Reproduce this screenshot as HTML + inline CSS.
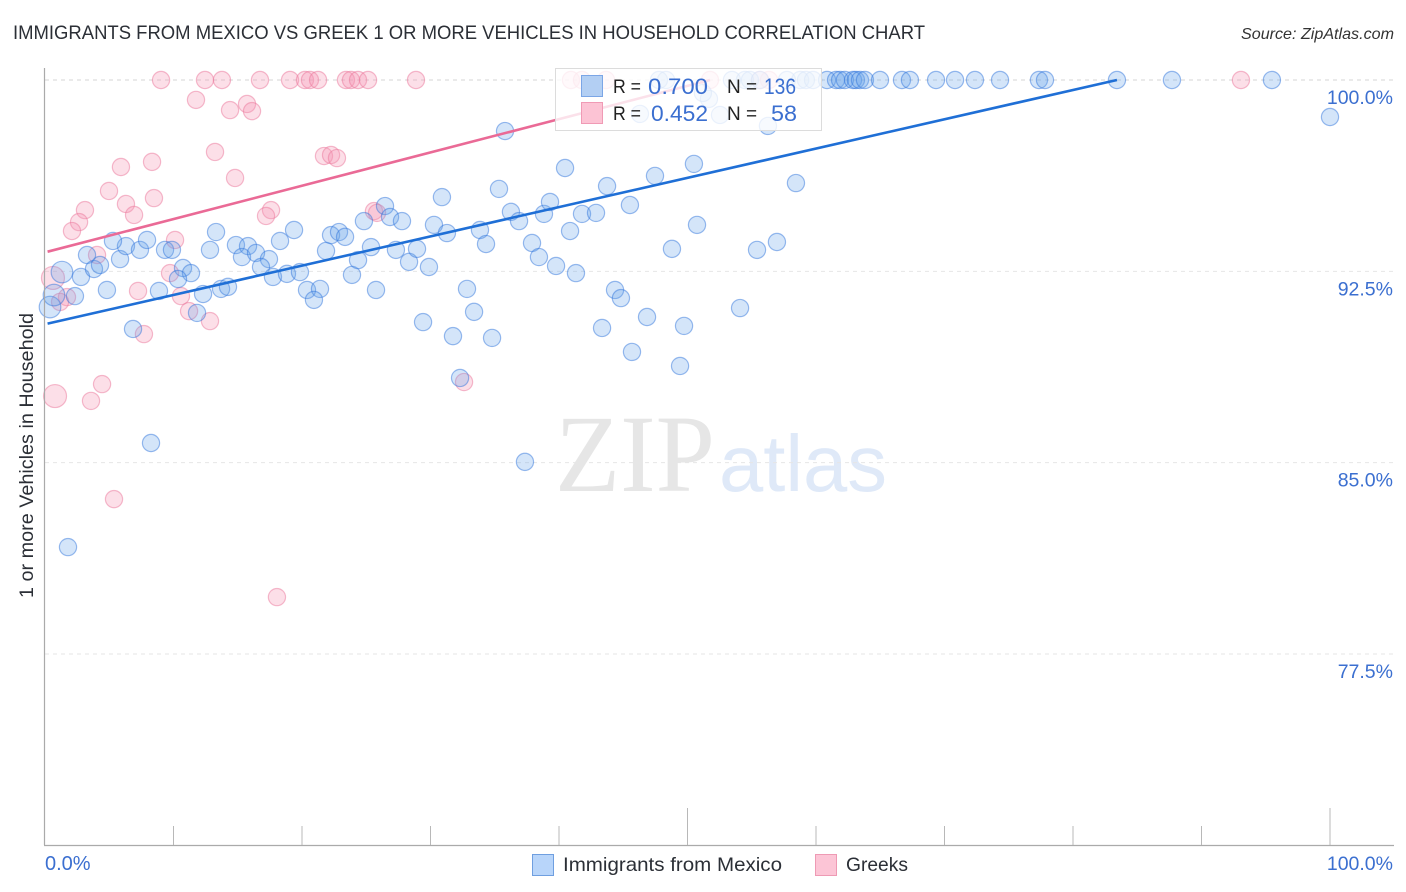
<!DOCTYPE html>
<html lang="en">
<head>
<meta charset="utf-8">
<title>Immigrants from Mexico vs Greek 1 or more Vehicles in Household Correlation Chart</title>
<style>
html,body{margin:0;padding:0;background:#fff;}
svg{display:block;font-family:"Liberation Sans",sans-serif;}
</style>
</head>
<body>
<svg id="chart" xmlns="http://www.w3.org/2000/svg" width="1406" height="892" viewBox="0 0 1406 892">
<rect x="0" y="0" width="1406" height="892" fill="#ffffff"/>
<text x="13" y="39" font-size="19" fill="#2b2f36" textLength="912" lengthAdjust="spacingAndGlyphs">IMMIGRANTS FROM MEXICO VS GREEK 1 OR MORE VEHICLES IN HOUSEHOLD CORRELATION CHART</text>
<text x="1241" y="39" font-size="16" font-style="italic" fill="#333" textLength="153" lengthAdjust="spacingAndGlyphs">Source: ZipAtlas.com</text>
<g>
<text x="555" y="491" font-family="'Liberation Serif',serif" font-size="110" fill="#e6e6e6" textLength="160" lengthAdjust="spacingAndGlyphs">ZIP</text>
<text x="719" y="491" font-size="80" fill="#dfe9f8" textLength="168" lengthAdjust="spacingAndGlyphs">atlas</text>
</g>
<g id="grid"></g>
<g id="pink-points"></g>
<g id="blue-points"></g>
<g id="trends"></g>
<g id="axes"></g>
<text transform="translate(33,598) rotate(-90)" font-size="19.5" fill="#2b2f36" textLength="285" lengthAdjust="spacingAndGlyphs">1 or more Vehicles in Household</text>
<g>
<rect x="555.5" y="68.5" width="266" height="62" fill="#ffffff" fill-opacity="0.8" stroke="#dcdcdc"/>
<rect x="581.5" y="75.5" width="21" height="21" fill="#b3cff3" stroke="#7ba6e6"/>
<rect x="581.5" y="102.5" width="21" height="21" fill="#fcc3d4" stroke="#f09ab5"/>
<text x="613" y="93" font-size="19" fill="#222" textLength="28" lengthAdjust="spacingAndGlyphs">R =</text>
<text x="648" y="94" font-size="22" fill="#3b6fd0" textLength="60" lengthAdjust="spacingAndGlyphs">0.700</text>
<text x="727" y="93" font-size="19" fill="#222">N =</text>
<text x="764" y="94" font-size="22" fill="#3b6fd0" textLength="32" lengthAdjust="spacingAndGlyphs">136</text>
<text x="613" y="120" font-size="19" fill="#222" textLength="28" lengthAdjust="spacingAndGlyphs">R =</text>
<text x="651" y="121" font-size="22" fill="#3b6fd0" textLength="57" lengthAdjust="spacingAndGlyphs">0.452</text>
<text x="727" y="120" font-size="19" fill="#222">N =</text>
<text x="771" y="121" font-size="22" fill="#3b6fd0" textLength="26" lengthAdjust="spacingAndGlyphs">58</text>
</g>
<g>
<rect x="532.5" y="854.5" width="21" height="21" fill="#b8d5fa" stroke="#6f9fe0"/>
<text x="563" y="871" font-size="19.5" fill="#2b2f36" textLength="219" lengthAdjust="spacingAndGlyphs">Immigrants from Mexico</text>
<rect x="815.5" y="854.5" width="21" height="21" fill="#fcc5d6" stroke="#ee9ab4"/>
<text x="846" y="871" font-size="19.5" fill="#2b2f36" textLength="62" lengthAdjust="spacingAndGlyphs">Greeks</text>
</g>
</svg>
<script>
const yTickValues = [100, 92.5, 85, 77.5];
const yTickLabels = ["100.0%", "92.5%", "85.0%", "77.5%"];
const xTickValues = [0, 10, 20, 30, 40, 50, 60, 70, 80, 90, 100];
const xEndLabels = ["0.0%", "100.0%"];

const blueX = [0.39,0.70,1.32,2.80,2.33,4.82,3.27,3.81,4.28,5.84,6.30,5.29,7.39,7.94,9.34,9.88,8.87,10.74,11.36,10.35,12.30,13.70,14.24,11.83,6.85,12.84,13.31,14.86,15.80,15.33,16.42,17.43,16.81,17.74,18.83,19.84,18.29,19.38,20.39,21.40,20.93,23.89,25.76,21.87,22.26,22.88,23.35,24.36,25.37,24.82,26.46,26.85,27.78,27.31,28.33,28.95,29.42,29.88,30.27,31.28,30.89,32.84,33.39,31.75,34.79,33.85,34.32,35.33,35.80,36.26,36.89,38.83,39.30,37.90,38.44,39.77,41.32,40.47,40.86,41.79,42.88,43.74,45.52,47.47,50.50,50.74,48.79,44.36,44.82,46.85,43.35,49.73,45.68,49.42,54.09,55.41,56.96,56.26,58.44,46.30,51.67,52.53,51.20,32.30,37.35,8.25,1.79,100.0,47.78,48.33,53.46,54.47,54.86,55.64,57.74,58.77,59.22,59.77,60.86,61.56,61.87,62.25,62.88,63.11,63.42,63.81,64.98,66.69,67.31,69.34,70.82,72.37,74.32,77.35,77.82,83.42,87.70,95.48];
const blueY = [91.10,91.57,92.47,92.28,91.53,91.77,93.14,92.59,92.75,92.98,93.49,93.69,93.34,93.73,93.34,93.34,91.73,92.63,92.43,92.20,91.61,91.81,91.89,90.87,90.24,93.34,94.04,93.53,93.49,93.06,93.22,92.98,92.67,92.28,92.40,92.47,93.69,94.12,91.77,91.81,91.38,92.36,91.77,93.30,93.92,94.04,93.85,92.94,93.45,94.47,95.06,94.63,94.47,93.34,92.87,93.38,90.51,92.67,94.32,94.00,95.41,91.81,90.91,89.96,89.89,94.12,93.57,95.73,98.00,94.83,94.47,94.75,95.22,93.61,93.06,92.71,92.43,96.55,94.08,94.75,94.79,95.84,95.10,96.24,96.71,94.32,93.38,91.77,91.45,90.71,90.28,90.36,89.34,88.79,91.06,93.34,93.65,98.20,95.96,98.67,99.26,98.63,99.49,88.32,85.03,85.77,81.69,98.55,100,100,100,100,100,100,100,100,100,100,100,100,100,100,100,100,100,100,100,100,100,100,100,100,100,100,100,100,100,100];
const blueBigPoints = [0, 1, 2];

const pinkX = [9.03,12.45,13.77,16.73,19.07,20.23,20.62,21.25,23.42,23.81,24.36,25.14,28.87,40.93,41.79,43.66,51.75,55.64,56.34,93.07,11.75,14.40,15.72,16.11,13.23,14.79,21.71,22.26,22.72,8.33,5.91,4.98,8.48,6.30,6.93,3.11,2.65,2.10,17.59,17.20,25.60,25.84,10.12,4.05,9.73,7.24,10.58,11.21,12.84,7.70,0.62,1.71,1.17,4.44,3.58,0.78,5.37,18.05,32.61];
const pinkY = [100,100,100,100,100,100,100,100,100,100,100,100,100,100,100,100,100,100,100,100,99.22,98.82,99.06,98.78,97.18,96.16,97.02,97.06,96.94,96.79,96.59,95.65,95.37,95.14,94.71,94.90,94.43,94.08,94.90,94.67,94.86,94.79,93.73,93.14,92.43,91.73,91.53,90.94,90.55,90.04,92.24,91.49,91.30,88.08,87.42,87.61,83.57,79.73,88.16];
const pinkBigPoints = [50, 55];

const blueTrendX = [0.2, 83.42];
const blueTrendY = [90.45, 100];
const pinkTrendX = [0.2, 51.75];
const pinkTrendY = [93.27, 100];

const NS = "http://www.w3.org/2000/svg";
function xScale(v) { return 45 + v * 12.85; }
function yScale(v) { return 80 + (100 - v) * 25.51; }
function make(tag, attrs, parent) {
  const el = document.createElementNS(NS, tag);
  for (const k in attrs) el.setAttribute(k, attrs[k]);
  parent.appendChild(el);
  return el;
}

const grid = document.getElementById("grid");
const axes = document.getElementById("axes");
yTickValues.forEach(function (v, i) {
  const line = make("line", {x1: 45, x2: 1394, y1: yScale(v), y2: yScale(v), stroke: i === 0 ? "#d4d4d4" : "#e6e6e6", "stroke-width": 1, "stroke-dasharray": "4 4"}, grid);
  
  
  const label = make("text", {x: 1393, y: yScale(v) + 24, "font-size": 19.5, fill: "#3b6fd0", "text-anchor": "end"}, axes);
  
  
  label.textContent = yTickLabels[i];
});

const yAxis = make("line", {x1: 44.5, x2: 44.5, y1: 68, y2: 845, stroke: "#aaaaaa", "stroke-width": 1.2}, axes);


const xAxis = make("line", {x1: 44, x2: 1394, y1: 845.5, y2: 845.5, stroke: "#aaaaaa", "stroke-width": 1.2}, axes);


xTickValues.forEach(function (v) {
  if (v === 0) return;
  const tick = make("line", {x1: xScale(v), x2: xScale(v), y1: v % 50 === 0 ? 808 : 826, y2: 845, stroke: "#b8b8b8", "stroke-width": 1}, axes);
  
  
});
const xLeft = make("text", {x: xScale(0), y: 870, "font-size": 20, fill: "#3b6fd0"}, axes);


xLeft.textContent = xEndLabels[0];
const xRight = make("text", {x: 1393, y: 870, "font-size": 19.5, fill: "#3b6fd0", "text-anchor": "end"}, axes);


xRight.textContent = xEndLabels[1];

const pinkLayer = document.getElementById("pink-points");
pinkX.forEach(function (v, i) {
  const dot = make("circle", {cx: xScale(v), cy: yScale(pinkY[i]), r: pinkBigPoints.includes(i) ? 11.5 : 8.6, fill: "rgba(246,150,178,0.3)", stroke: "rgba(236,120,156,0.5)", "stroke-width": 1.2}, pinkLayer);
  
  
});
const blueLayer = document.getElementById("blue-points");
blueX.forEach(function (v, i) {
  const dot = make("circle", {cx: xScale(v), cy: yScale(blueY[i]), r: blueBigPoints.includes(i) ? 10.8 : 8.6, fill: "rgba(100,160,235,0.28)", stroke: "rgba(45,115,220,0.48)", "stroke-width": 1.2}, blueLayer);
  
  
});

const trends = document.getElementById("trends");
const pinkTrend = make("line", {x1: xScale(pinkTrendX[0]), y1: yScale(pinkTrendY[0]), x2: xScale(pinkTrendX[1]), y2: yScale(pinkTrendY[1]), stroke: "#ea6a96", "stroke-width": 2.6}, trends);


const blueTrend = make("line", {x1: xScale(blueTrendX[0]), y1: yScale(blueTrendY[0]), x2: xScale(blueTrendX[1]), y2: yScale(blueTrendY[1]), stroke: "#1f6fd6", "stroke-width": 2.6}, trends);


</script>
</body>
</html>
